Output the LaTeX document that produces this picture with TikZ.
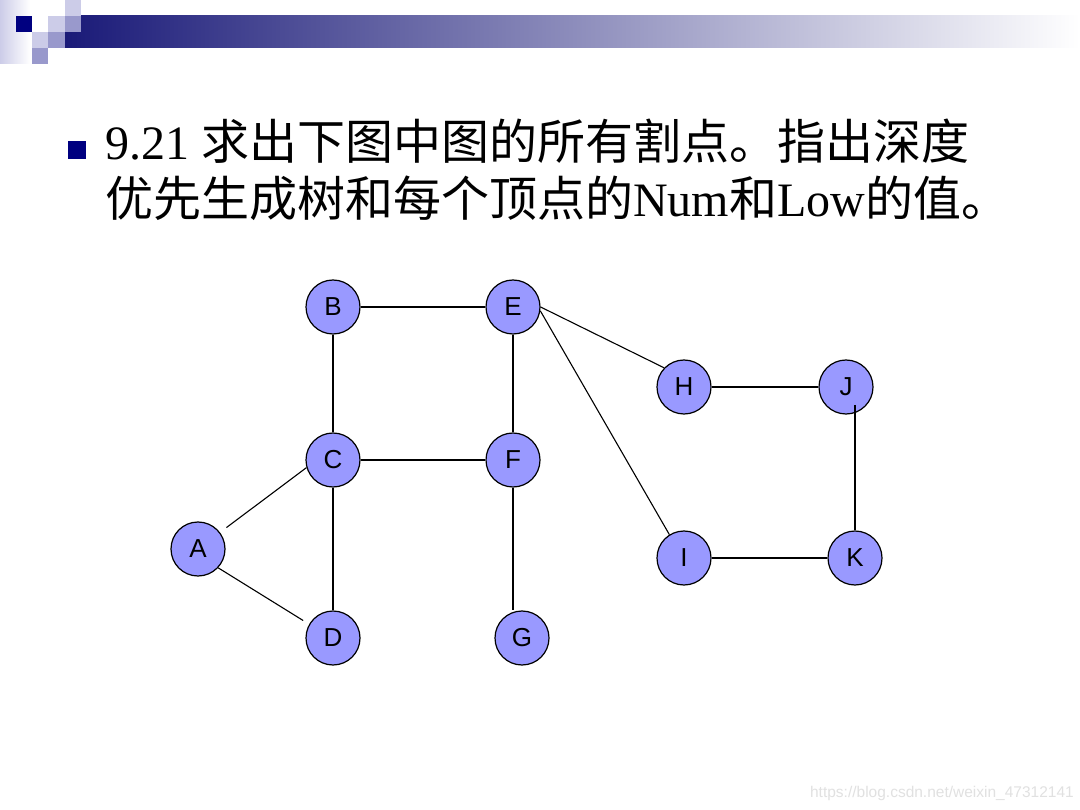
\documentclass[tikz,border=0pt]{standalone}
\usepackage{fontspec}
\setmainfont{Liberation Serif}
\newfontfamily\cjk{Noto Sans CJK SC}
\newfontfamily\arialf{Liberation Sans}
\definecolor{navy}{RGB}{0,0,128}
\definecolor{lightlav}{RGB}{204,204,232}
\definecolor{medlav}{RGB}{153,153,204}
\definecolor{barnavy}{RGB}{26,26,120}
\definecolor{nodefill}{RGB}{153,153,255}
\definecolor{wmark}{RGB}{225,225,225}
\tikzset{
  vtx/.style={circle, draw=black, line width=1.2pt, fill=nodefill, minimum size=54pt, inner sep=0pt, font=\arialf\fontsize{26}{26}\selectfont},
  edge/.style={draw=black, line width=1.4pt},
  dedge/.style={draw=black, line width=1.1pt},
  title/.style={anchor=base west, inner sep=0pt, font=\fontsize{48}{57}\selectfont}
}
\begin{document}
\begin{tikzpicture}[x=1pt,y=-1pt]
\useasboundingbox (0,0) rectangle (1080,810);
\fill[white] (0,0) rectangle (1080,810);
% decoration
\shade[left color=lightlav, right color=white] (0,0) rectangle (30,64);
\shade[left color=barnavy, right color=white] (65,16) rectangle (1080,48);
\fill[navy] (16,16) rectangle (32,32);
\fill[white] (32,16) rectangle (48,32);
\fill[lightlav] (48,16) rectangle (65,32);
\fill[lightlav] (65,0) rectangle (81,16);
\fill[medlav] (65,16) rectangle (81,32);
\fill[lightlav] (32,32) rectangle (48,48);
\fill[medlav] (48,32) rectangle (65,48);
\fill[medlav] (32,48) rectangle (48,64);
% title
\fill[navy] (68,141) rectangle (86,159);
\node[title] (t1) at (105,160) {9.21 {\cjk 求出下图中图的所有割点。指出深度}};
\node[title] (t2) at (105,217) {{\cjk 优先生成树和每个顶点的}Num{\cjk 和}Low{\cjk 的值。}};
% nodes
\node[vtx] (B) at (333,307) {B};
\node[vtx] (E) at (513,307) {E};
\node[vtx] (H) at (684,387) {H};
\node[vtx] (J) at (846,387) {J};
\node[vtx] (C) at (333,460) {C};
\node[vtx] (F) at (513,460) {F};
\node[vtx] (A) at (198,549) {A};
\node[vtx] (I) at (684,558) {I};
\node[vtx] (K) at (855,558) {K};
\node[vtx] (D) at (333,638) {D};
\node[vtx] (G) at (522,638) {G};
\coordinate (jk) at (855,405);
% edges
\draw[edge] (B.east) -- (E.west);
\draw[edge] (B.south) -- (C.north);
\draw[edge] (E.south) -- (F.north);
\draw[edge] (C.east) -- (F.west);
\draw[edge] (C.south) -- (D.north);
\draw[edge] (F.south) -- (F.south |- G.north);
\draw[edge] (H.east) -- (J.west);
\draw[edge] (jk) -- (K.north);
\draw[edge] (I.east) -- (K.west);
\draw[dedge, shorten <=8pt] (A.37) -- (C.196);
\draw[dedge, shorten >=7pt] (A.-43) -- (D.150);
\draw[dedge] (E.0) -- (H.136);
\draw[dedge] (E.-8) -- (I.122);
% watermark
\node[anchor=east, inner sep=0pt, text=wmark, font=\arialf\fontsize{15.5}{16}\selectfont] (wm) at (1074,793) {https://blog.csdn.net/weixin\_47312141};
\end{tikzpicture}
\end{document}
